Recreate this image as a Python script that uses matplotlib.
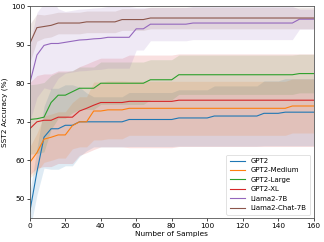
import numpy as np
import matplotlib
matplotlib.use('Agg')
import matplotlib.pyplot as plt

# number of in-context samples (step 4)
samples = list(range(0, 161, 4))

models = ['GPT2', 'GPT2-Medium', 'GPT2-Large', 'GPT2-XL', 'Llama2-7B', 'Llama2-Chat-7B']

gpt2_mean = [46.7, 57.0, 66.0, 68.2, 68.2, 69.1, 69.1, 70.0, 70.0, 70.0, 70.0,
             70.0, 70.0, 70.0, 70.6, 70.6, 70.6, 70.6, 70.6, 70.6, 70.6,
             71.0, 71.0, 71.0, 71.0, 71.0, 71.5, 71.5, 71.5, 71.5, 71.5,
             71.5, 71.5, 72.2, 72.2, 72.2, 72.5, 72.5, 72.5, 72.5, 72.5]
gpt2_std = [5.0, 6.0, 8.0, 10.5, 10.5, 10.5, 10.5, 9.0, 7.5, 6.5, 6.5,
            6.5, 6.5, 6.5, 7.0, 7.0, 7.0, 7.0, 7.0, 7.0, 7.0,
            7.3, 7.3, 7.3, 7.3, 7.3, 7.8, 7.8, 7.8, 7.8, 7.8,
            7.8, 7.8, 8.4, 8.4, 8.4, 8.7, 8.7, 8.7, 8.7, 8.7]

medium_mean = [59.5, 62.0, 65.5, 66.0, 66.6, 66.6, 69.0, 70.0, 70.0, 72.8, 72.8,
               73.1, 73.1, 73.1, 73.5, 73.5, 73.5, 73.5, 73.5, 73.5, 73.5,
               73.5, 73.5, 73.5, 73.5, 73.5, 73.5, 73.5, 73.5, 73.5, 73.5,
               73.5, 73.5, 73.5, 73.5, 73.5, 73.5, 74.1, 74.1, 74.1, 74.1]
medium_std = [4.0, 5.0, 6.0, 6.0, 6.0, 6.0, 6.0, 6.5, 6.5, 7.5, 7.5,
              7.5, 7.5, 7.5, 7.0, 7.0, 7.0, 7.0, 7.0, 7.0, 7.0,
              7.0, 7.0, 7.0, 7.0, 7.0, 7.0, 7.0, 7.0, 7.0, 7.0,
              7.0, 7.0, 7.0, 7.0, 7.0, 7.0, 7.0, 7.0, 7.0, 7.0]

large_mean = [70.6, 70.8, 71.2, 75.0, 76.9, 76.9, 77.8, 78.7, 78.7, 78.7, 80.0,
              80.0, 80.0, 80.0, 80.0, 80.0, 80.0, 80.9, 80.9, 80.9, 80.9,
              82.2, 82.2, 82.2, 82.2, 82.2, 82.2, 82.2, 82.2, 82.2, 82.2,
              82.2, 82.2, 82.2, 82.2, 82.2, 82.2, 82.2, 82.5, 82.5, 82.5]
large_std = [9.0, 9.0, 9.0, 7.0, 6.0, 6.0, 5.5, 5.5, 5.5, 5.5, 5.5,
             5.5, 5.5, 5.5, 5.5, 5.5, 5.5, 5.2, 5.2, 5.2, 5.2,
             5.1, 5.1, 5.1, 5.1, 5.1, 5.1, 5.1, 5.1, 5.1, 5.1,
             5.1, 5.1, 5.1, 5.1, 5.1, 5.1, 5.1, 5.0, 5.0, 5.0]

xl_mean = [68.2, 70.0, 70.4, 70.4, 71.2, 71.2, 71.2, 72.8, 73.5, 74.3, 75.0,
           75.0, 75.0, 75.0, 75.3, 75.3, 75.3, 75.3, 75.3, 75.3, 75.3,
           75.6, 75.6, 75.6, 75.6, 75.6, 75.6, 75.6, 75.6, 75.6, 75.6,
           75.6, 75.6, 75.6, 75.6, 75.6, 75.6, 75.6, 75.6, 75.6, 75.6]
xl_std = [12.0, 12.0, 12.0, 12.0, 12.0, 12.0, 12.0, 11.5, 11.5, 11.5, 11.5,
          11.5, 11.5, 11.5, 12.0, 12.0, 12.0, 12.0, 12.0, 12.0, 12.0,
          12.0, 12.0, 12.0, 12.0, 12.0, 12.0, 12.0, 12.0, 12.0, 12.0,
          12.0, 12.0, 12.0, 12.0, 12.0, 12.0, 12.0, 12.0, 12.0, 12.0]

llama_mean = [80.0, 87.3, 89.8, 90.3, 90.3, 90.6, 90.9, 91.2, 91.3, 91.5, 91.6,
              91.9, 91.9, 91.9, 91.9, 94.1, 94.1, 95.3, 95.3, 95.3, 95.3,
              95.3, 95.3, 95.6, 95.6, 95.6, 95.6, 95.6, 95.6, 95.6, 95.6,
              95.6, 95.6, 95.6, 95.6, 95.6, 95.6, 95.6, 96.6, 96.6, 96.6]
llama_std = [10.0, 11.0, 11.0, 12.0, 9.0, 8.0, 8.0, 8.0, 8.0, 8.0, 8.0,
             8.0, 8.0, 8.0, 8.0, 5.5, 5.5, 4.3, 4.3, 4.3, 4.3,
             4.3, 4.3, 4.3, 4.3, 4.3, 4.3, 4.3, 4.3, 4.3, 4.3,
             4.3, 4.3, 4.3, 4.3, 4.3, 4.3, 4.3, 2.6, 2.6, 2.6]

chat_mean = [90.3, 94.4, 94.7, 95.0, 95.6, 95.6, 95.6, 95.6, 95.9, 95.9, 95.9,
             95.9, 95.9, 96.5, 96.5, 96.5, 96.5, 96.9, 96.9, 96.9, 96.9,
             96.9, 96.9, 96.9, 96.9, 96.9, 96.9, 96.9, 96.9, 96.9, 96.9,
             96.9, 96.9, 96.9, 96.9, 96.9, 96.9, 96.9, 96.9, 96.9, 96.9]
chat_std = [5.0, 3.5, 3.0, 3.0, 2.8, 2.8, 2.8, 2.8, 2.8, 2.8, 2.8,
            2.8, 2.8, 2.8, 2.8, 2.8, 2.8, 2.8, 2.8, 2.8, 2.8,
            2.8, 2.8, 2.8, 2.8, 2.8, 2.8, 2.8, 2.8, 2.8, 2.8,
            2.8, 2.8, 2.8, 2.8, 2.8, 2.8, 2.8, 2.8, 2.8, 2.8]

means = [gpt2_mean, medium_mean, large_mean, xl_mean, llama_mean, chat_mean]
stds = [gpt2_std, medium_std, large_std, xl_std, llama_std, chat_std]
colors = ['tab:blue', 'tab:orange', 'tab:green', 'tab:red', 'tab:purple', 'tab:brown']

fig = plt.figure(figsize=(3.24, 2.42), dpi=100)
ax = fig.add_axes([0.092, 0.098, 0.876, 0.877])

x = np.array(samples)
for name, m, s, c in zip(models, means, stds, colors):
    m = np.array(m)
    s = np.array(s)
    ax.fill_between(x, m - s, m + s, color=c, alpha=0.14, linewidth=0)
    ax.plot(x, m, color=c, linewidth=0.8, label=name)

ax.set_xlim(0, 160)
ax.set_ylim(45, 100)
ax.set_xticks(range(0, 161, 20))
ax.set_yticks(range(50, 101, 10))
ax.tick_params(labelsize=5.3, length=2, width=0.5, pad=1.5)
ax.set_xlabel('Number of Samples', fontsize=5.3, labelpad=1)
ax.set_ylabel('SST2 Accuracy (%)', fontsize=5.3, labelpad=2)
for sp in ax.spines.values():
    sp.set_linewidth(0.6)
    sp.set_color('#555555')

leg = ax.legend(loc='lower right', fontsize=5.0, handlelength=2.2, borderpad=0.5,
                labelspacing=0.5, frameon=True)
leg.get_frame().set_linewidth(0.5)

fig.savefig('out.png', dpi=100)
